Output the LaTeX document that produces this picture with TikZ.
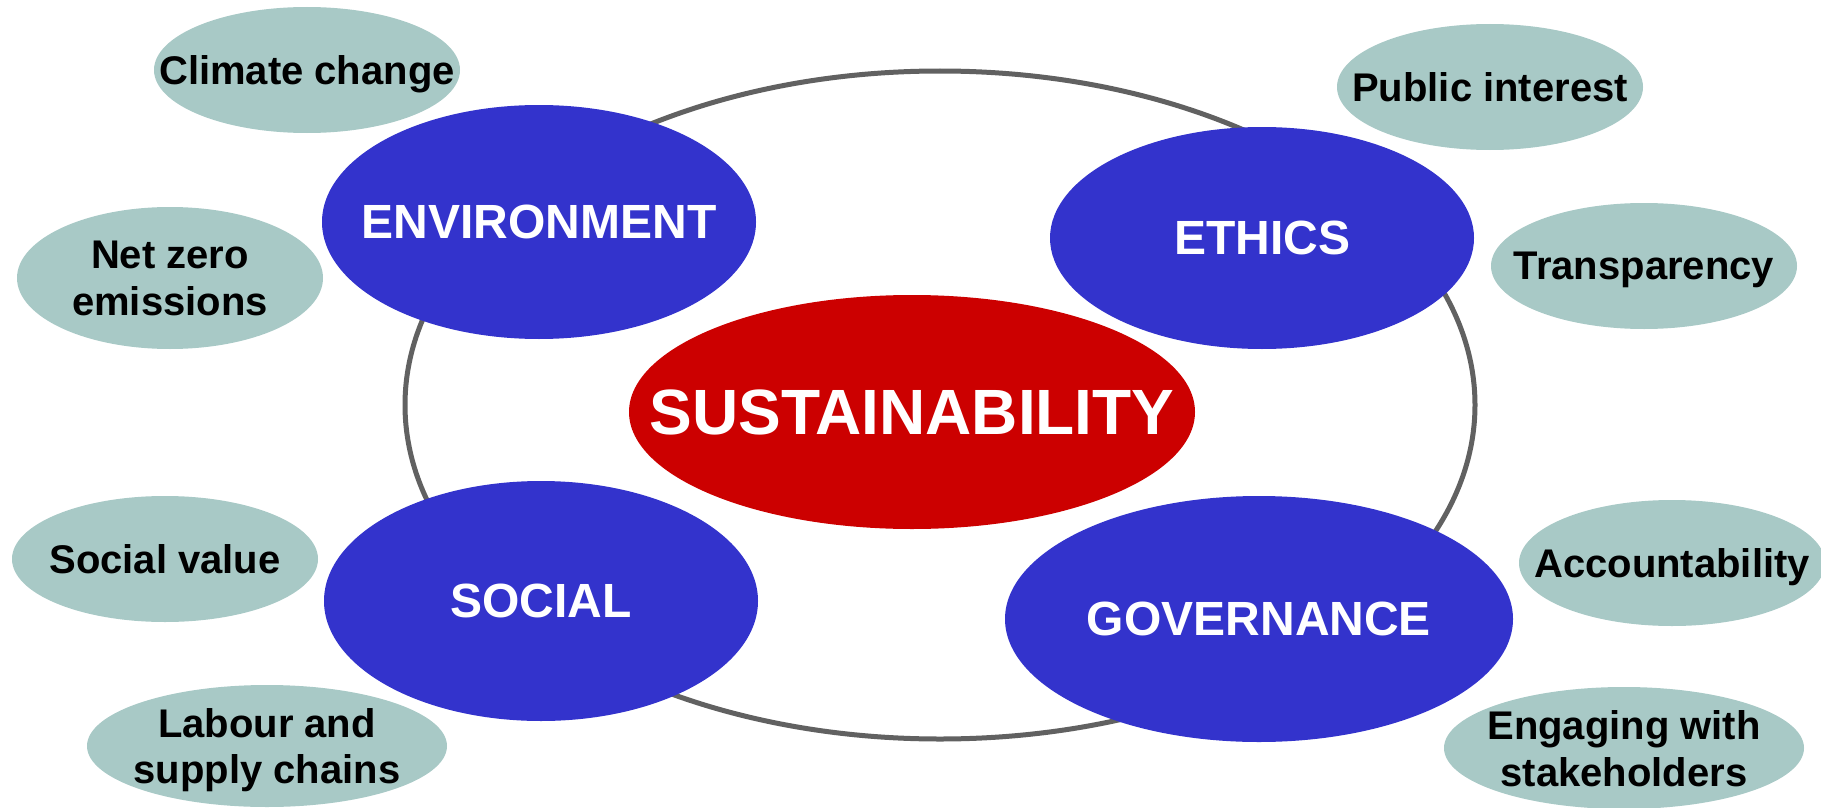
\documentclass[tikz,border=0pt]{standalone}
\usepackage{fontspec}
\setmainfont{Liberation Sans}
\usetikzlibrary{shapes.geometric}
\definecolor{bluefill}{RGB}{51,51,204}
\definecolor{redfill}{RGB}{204,0,0}
\definecolor{tealfill}{RGB}{168,201,198}
\definecolor{ringgray}{RGB}{97,97,97}
\tikzset{
  ring/.style={ellipse, draw=ringgray, line width=5pt, inner sep=0pt},
  core/.style={ellipse, fill=redfill, inner sep=0pt},
  pillar/.style={ellipse, fill=bluefill, inner sep=0pt},
  topic/.style={ellipse, fill=tealfill, inner sep=0pt},
  coretxt/.style={text=white, font=\bfseries\fontsize{64}{70}\selectfont, inner sep=0pt, text depth=0pt},
  pillartxt/.style={text=white, font=\bfseries\fontsize{48}{54}\selectfont, inner sep=0pt, text depth=0pt},
  topictxt/.style={text=black, font=\bfseries\fontsize{40}{47}\selectfont, align=center, inner sep=0pt, text depth=0pt}
}
\begin{document}
\begin{tikzpicture}[x=1pt,y=-1pt]
\useasboundingbox (0,0) rectangle (1821,808);
% outer ring
\node[ring, minimum width=1070pt, minimum height=668pt] (ring) at (940,405) {};
% core
\node[core, minimum width=566pt, minimum height=234pt] (sus) at (912,412) {};
\node[coretxt] at (sus.center) {SUSTAINABILITY};
% pillars
\node[pillar, minimum width=434pt, minimum height=234pt] (env) at (539,222) {};
\node[pillartxt] at (env.center) {ENVIRONMENT};
\node[pillar, minimum width=424pt, minimum height=222pt] (eth) at (1262,238) {};
\node[pillartxt] at (eth.center) {ETHICS};
\node[pillar, minimum width=434pt, minimum height=240pt] (soc) at (541,601) {};
\node[pillartxt] at (soc.center) {SOCIAL};
\node[pillar, minimum width=508pt, minimum height=246pt] (gov) at (1259,619) {};
\node[pillartxt] at (gov.center) {GOVERNANCE};
% topics
\node[topic, minimum width=306pt, minimum height=126pt] (cc) at (307,70) {};
\node[topictxt] at (cc.center) {Climate change};
\node[topic, minimum width=306pt, minimum height=142pt] (nz) at (170,278) {};
\node[topictxt] at (nz.center) {Net zero\\emissions};
\node[topic, minimum width=306pt, minimum height=126pt] (pi) at (1490,87) {};
\node[topictxt] at (pi.center) {Public interest};
\node[topic, minimum width=306pt, minimum height=126pt] (tr) at (1644,266) {};
\node[topictxt] at (tr.center) {Transparency};
\node[topic, minimum width=306pt, minimum height=126pt] (sv) at (165,559) {};
\node[topictxt] at (sv.center) {Social value};
\node[topic, minimum width=360pt, minimum height=122pt] (lab) at (267,746) {};
\node[topictxt] at (lab.center) {Labour and\\supply chains};
\node[topic, minimum width=306pt, minimum height=126pt] (acc) at (1672,563) {};
\node[topictxt] at (acc.center) {Accountability};
\node[topic, minimum width=360pt, minimum height=122pt] (eng) at (1624,748) {};
\node[topictxt] at (eng.center) {Engaging with\\stakeholders};
\end{tikzpicture}
\end{document}
